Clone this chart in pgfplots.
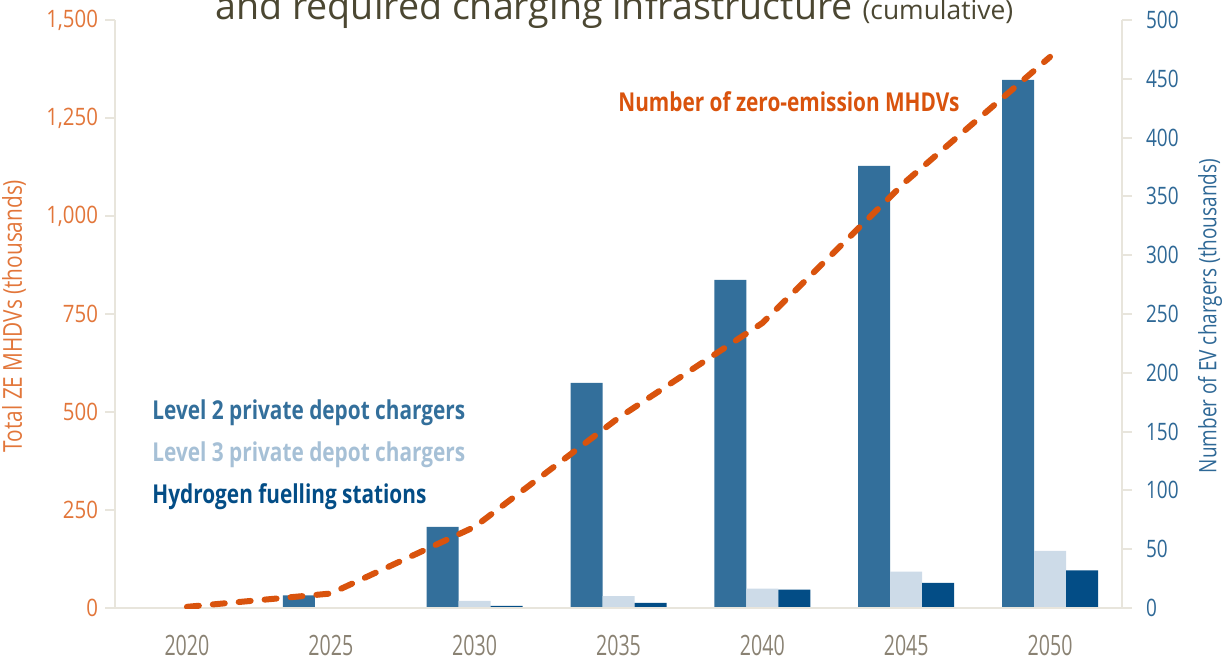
\documentclass[border=0pt]{standalone}
\usepackage{pgfplots}
\pgfplotsset{compat=1.18}
\usepackage{fontspec}
\setmainfont{Open Sans}
\newfontfamily\cnd[FakeStretch=0.7]{Open Sans}
\newfontfamily\cndb[FakeStretch=0.8]{Open Sans}
\newfontfamily\cndl[FakeStretch=0.85]{Open Sans}
\newfontfamily\cndr[FakeStretch=0.79]{Open Sans}
\definecolor{ltwo}{RGB}{51,111,155}
\definecolor{lthree}{RGB}{205,219,232}
\definecolor{lthreetxt}{RGB}{166,192,214}
\definecolor{htwo}{RGB}{3,77,134}
\definecolor{orline}{RGB}{217,83,13}
\definecolor{ltick}{RGB}{226,118,58}
\definecolor{rtick}{RGB}{46,104,150}
\definecolor{xlab}{RGB}{138,130,115}
\definecolor{ttl}{RGB}{75,71,50}
\definecolor{axcol}{RGB}{232,229,220}
\begin{document}
\begin{tikzpicture}
\useasboundingbox (0pt,0pt) rectangle (612pt,330pt);
% right axis: chargers (bars)
\begin{axis}[
  at={(57.5pt,26pt)}, anchor=south west, scale only axis,
  width=503.5pt, height=294pt,
  xmin=-0.5, xmax=6.5, ymin=0, ymax=500,
  axis x line=none, axis y line*=right,
  axis line style={-, draw=axcol, line width=1pt},
  ytick={0,50,...,500},
  tick align=outside, major tick length=5pt,
  ytick style={draw=axcol, line width=1pt},
  yticklabel style={font=\cndr\fontsize{12}{14}\selectfont, text=rtick, xshift=3.5pt},
  /pgf/number format/assume math mode=true,
]
\addplot[ybar, bar width=16pt, bar shift=-16pt, fill=ltwo, draw=none]
  coordinates {(0,0) (1,10.8) (2,69) (3,191.5) (4,279) (5,376) (6,449)};
\addplot[ybar, bar width=16pt, bar shift=0pt, fill=lthree, draw=none]
  coordinates {(0,0) (1,0.8) (2,6) (3,10) (4,16.5) (5,31) (6,48.5)};
\addplot[ybar, bar width=16pt, bar shift=16pt, fill=htwo, draw=none]
  coordinates {(0,0) (1,0.6) (2,1.9) (3,4.3) (4,15.7) (5,21.4) (6,32)};
\end{axis}
% left axis: vehicles (line)
\begin{axis}[
  at={(57.5pt,26pt)}, anchor=south west, scale only axis,
  width=503.5pt, height=294pt,
  xmin=-0.5, xmax=6.5, ymin=0, ymax=1500,
  axis x line*=bottom, axis y line*=left,
  axis line style={-, draw=axcol, line width=1pt},
  xtick={0,1,2,3,4,5,6},
  xticklabels={2020,2025,2030,2035,2040,2045,2050},
  ytick={0,250,...,1500},
  tick align=outside, major tick length=5pt,
  ytick style={draw=axcol, line width=1pt},
  xtick style={draw=none},
  yticklabel style={font=\cndl\fontsize{12}{14}\selectfont, text=ltick},
  xticklabel style={font=\cnd\fontsize{14}{16}\selectfont, text=xlab, yshift=-5pt},
  /pgf/number format/.cd, 1000 sep={,}, assume math mode=true,
]
\addplot[draw=orline, line width=3pt, dash pattern=on 6pt off 7pt, line cap=round]
  coordinates {(0,3) (1,37) (2,207) (3,485) (4,727) (5,1089) (6,1406)};
\end{axis}
\node[anchor=base west, text=ttl, font=\fontsize{18.8}{22}\selectfont, inner sep=0pt]
  at (107.5pt,320.25pt) {and required charging infrastructure {\fontsize{13.2}{15}\selectfont (cumulative)}};
\node[anchor=base west, text=orline, font=\cndb\bfseries\fontsize{13}{15}\selectfont, inner sep=0pt]
  at (309pt,274pt) {Number of zero-emission MHDVs};
\node[anchor=base west, text=ltwo, font=\cndb\bfseries\fontsize{13}{15}\selectfont, inner sep=0pt]
  at (76pt,120.5pt) {Level 2 private depot chargers};
\node[anchor=base west, text=lthreetxt, font=\cndb\bfseries\fontsize{13}{15}\selectfont, inner sep=0pt]
  at (76pt,99.5pt) {Level 3 private depot chargers};
\node[anchor=base west, text=htwo, font=\cndb\bfseries\fontsize{13}{15}\selectfont, inner sep=0pt]
  at (76pt,78.5pt) {Hydrogen fuelling stations};
\node[rotate=90, text=ltick, font=\cndb\fontsize{13}{15}\selectfont, inner sep=0pt]
  at (7pt,172pt) {Total ZE MHDVs (thousands)};
\node[rotate=90, text=rtick, font=\cndr\fontsize{12}{14}\selectfont, inner sep=0pt]
  at (605pt,172pt) {Number of EV chargers (thousands)};
\end{tikzpicture}
\end{document}
